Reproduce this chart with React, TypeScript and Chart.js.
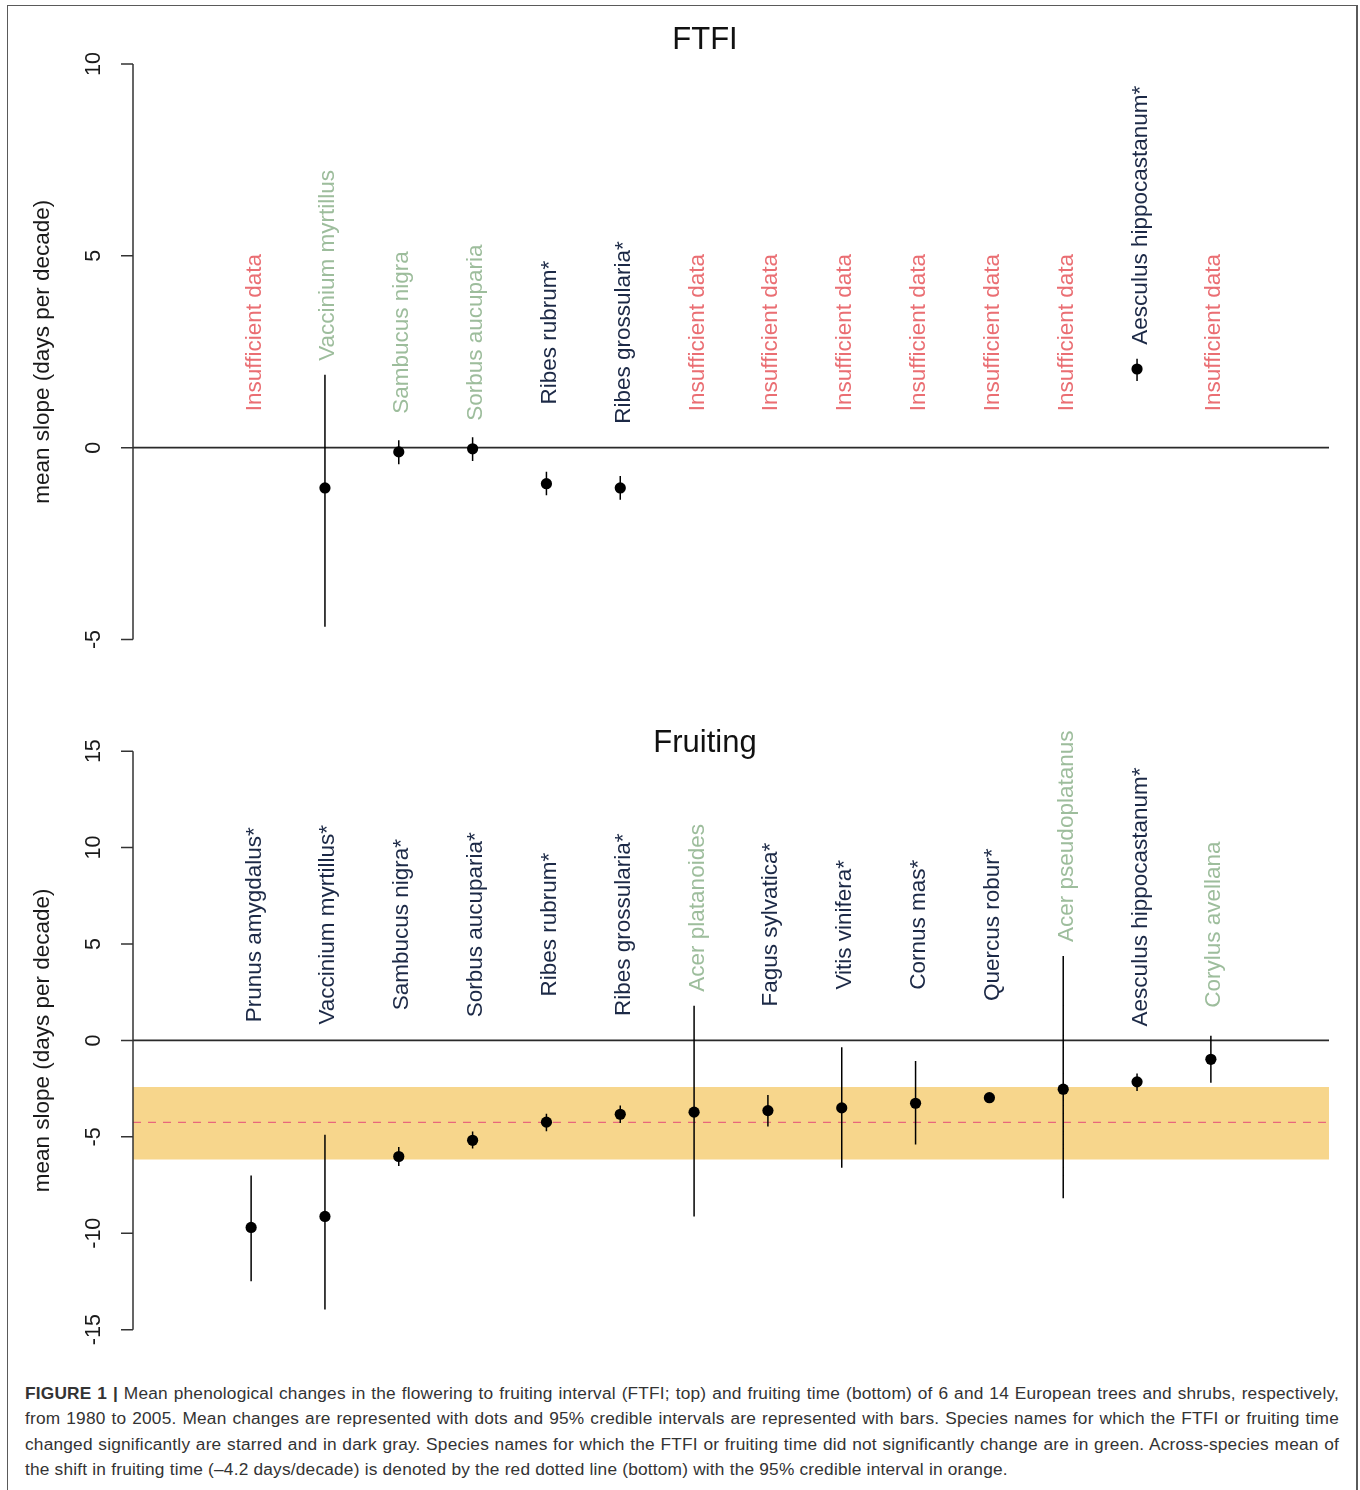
import React, { useEffect, useRef } from "react";
import { Chart, registerables } from "chart.js";

Chart.register(...registerables);

const FONT = '"Liberation Sans", Arial, Helvetica, sans-serif';

// ---------- FTFI (top) ----------
const topNames = [
  "Insufficient data",
  "Vaccinium myrtillus",
  "Sambucus nigra",
  "Sorbus aucuparia",
  "Ribes rubrum*",
  "Ribes grossularia*",
  "Insufficient data",
  "Insufficient data",
  "Insufficient data",
  "Insufficient data",
  "Insufficient data",
  "Insufficient data",
  "Aesculus hippocastanum*",
  "Insufficient data",
];
const topStatus = ["na", "ns", "ns", "ns", "sig", "sig", "na", "na", "na", "na", "na", "na", "sig", "na"];
const topMean = [null, -1.05, -0.11, -0.03, -0.94, -1.05, null, null, null, null, null, null, 2.05, null];
const topLower = [null, -4.67, -0.43, -0.35, -1.24, -1.36, null, null, null, null, null, null, 1.74, null];
const topUpper = [null, 1.9, 0.19, 0.27, -0.63, -0.74, null, null, null, null, null, null, 2.32, null];
const topTicks = [-5, 0, 5, 10];

// ---------- Fruiting (bottom) ----------
const botNames = [
  "Prunus amygdalus*",
  "Vaccinium myrtillus*",
  "Sambucus nigra*",
  "Sorbus aucuparia*",
  "Ribes rubrum*",
  "Ribes grossularia*",
  "Acer platanoides",
  "Fagus sylvatica*",
  "Vitis vinifera*",
  "Cornus mas*",
  "Quercus robur*",
  "Acer pseudoplatanus",
  "Aesculus hippocastanum*",
  "Corylus avellana",
];
const botStatus = ["sig", "sig", "sig", "sig", "sig", "sig", "ns", "sig", "sig", "sig", "sig", "ns", "sig", "ns"];
const botMean = [-9.7, -9.13, -6.02, -5.18, -4.24, -3.83, -3.72, -3.64, -3.5, -3.26, -2.97, -2.53, -2.15, -0.98];
const botLower = [-12.49, -13.95, -6.51, -5.61, -4.71, -4.28, -9.13, -4.47, -6.6, -5.4, -3.12, -8.19, -2.62, -2.19];
const botUpper = [-7.0, -4.89, -5.53, -4.73, -3.81, -3.38, 1.8, -2.83, -0.36, -1.07, -2.82, 4.38, -1.72, 0.24];
const botTicks = [-15, -10, -5, 0, 5, 10, 15];
const acrossMean = -4.25;
const acrossLower = -6.18;
const acrossUpper = -2.42;

const STATUS_COLORS: Record<string, string> = { na: "#ea6e73", ns: "#9dbd9c", sig: "#1c2946" };

const captionLines = [
  "Mean phenological changes in the flowering to fruiting interval (FTFI; top) and fruiting time (bottom) of 6 and 14 European trees and shrubs, respectively,",
  "from 1980 to 2005. Mean changes are represented with dots and 95% credible intervals are represented with bars. Species names for which the FTFI or fruiting time",
  "changed significantly are starred and in dark gray. Species names for which the FTFI or fruiting time did not significantly change are in green. Across-species mean of",
  "the shift in fruiting time (\u20134.2 days/decade) is denoted by the red dotted line (bottom) with the 95% credible interval in orange.",
];

type PanelProps = {
  title: string;
  names: string[];
  status: string[];
  mean: (number | null)[];
  lower: (number | null)[];
  upper: (number | null)[];
  ticks: number[];
  yMin: number;
  yMax: number;
  labelCenter: number;
  band?: { lower: number; upper: number; mean: number };
  height: number;
  padTop: number;
  padBottom: number;
  titleBaseline: number;
};

const X_MIN = -0.6;
const X_MAX = 15.6;

function Panel(p: PanelProps) {
  const ref = useRef<HTMLCanvasElement | null>(null);
  useEffect(() => {
    if (!ref.current) return;
    const pts = p.mean
      .map((m, i) => (m == null ? null : { x: i + 1, y: m }))
      .filter((v) => v != null) as { x: number; y: number }[];
    const bars: { x: number; y: number | null }[] = [];
    p.lower.forEach((lo, i) => {
      const hi = p.upper[i];
      if (lo == null || hi == null) return;
      bars.push({ x: i + 1, y: lo }, { x: i + 1, y: hi }, { x: i + 1, y: null });
    });
    const datasets: any[] = [
      {
        data: pts,
        showLine: false,
        pointRadius: 5.6,
        pointBackgroundColor: "#000",
        pointBorderColor: "#000",
        pointBorderWidth: 0,
      },
      {
        data: bars,
        showLine: true,
        spanGaps: false,
        borderColor: "#000",
        borderWidth: 1.5,
        pointRadius: 0,
      },
      {
        data: [
          { x: X_MIN, y: 0 },
          { x: X_MAX, y: 0 },
        ],
        showLine: true,
        borderColor: "#2a2a2a",
        borderWidth: 1.6,
        pointRadius: 0,
      },
    ];
    if (p.band) {
      datasets.push({
        data: [
          { x: X_MIN, y: p.band.mean },
          { x: X_MAX, y: p.band.mean },
        ],
        showLine: true,
        borderColor: "#e8677c",
        borderWidth: 1.4,
        borderDash: [8, 7],
        pointRadius: 0,
      });
      datasets.push({
        data: [
          { x: X_MIN, y: p.band.upper },
          { x: X_MAX, y: p.band.upper },
        ],
        showLine: true,
        borderWidth: 0,
        borderColor: "rgba(0,0,0,0)",
        backgroundColor: "#f7d68c",
        fill: { value: p.band.lower },
        pointRadius: 0,
      });
    }

    const decor = {
      id: "rdecor",
      afterDraw(chart: any) {
        const ctx = chart.ctx as CanvasRenderingContext2D;
        const y = chart.scales.y;
        const x = chart.scales.x;
        const ax = chart.chartArea.left;
        ctx.save();
        // R-style y axis
        ctx.strokeStyle = "#333";
        ctx.lineWidth = 1.5;
        ctx.beginPath();
        ctx.moveTo(ax, y.getPixelForValue(p.ticks[0]));
        ctx.lineTo(ax, y.getPixelForValue(p.ticks[p.ticks.length - 1]));
        p.ticks.forEach((t) => {
          const py = y.getPixelForValue(t);
          ctx.moveTo(ax - 12, py);
          ctx.lineTo(ax, py);
        });
        ctx.stroke();
        ctx.fillStyle = "#1a1a1a";
        ctx.font = `21.5px ${FONT}`;
        ctx.textAlign = "center";
        ctx.textBaseline = "alphabetic";
        p.ticks.forEach((t) => {
          const py = y.getPixelForValue(t);
          ctx.save();
          ctx.translate(ax - 33, py);
          ctx.rotate(-Math.PI / 2);
          ctx.fillText(String(t), 0, 0);
          ctx.restore();
        });
        // y axis title
        ctx.font = `22.5px ${FONT}`;
        ctx.save();
        ctx.translate(49, (chart.chartArea.top + chart.chartArea.bottom) / 2);
        ctx.rotate(-Math.PI / 2);
        ctx.fillText("mean slope (days per decade)", 0, 0);
        ctx.restore();
        // title
        ctx.font = `31px ${FONT}`;
        ctx.fillStyle = "#111";
        ctx.fillText(p.title, 705, p.titleBaseline);
        // species labels
        ctx.font = `22.5px ${FONT}`;
        ctx.textAlign = "left";
        const gap = 14;
        const cY = y.getPixelForValue(p.labelCenter);
        p.names.forEach((name, i) => {
          const w = ctx.measureText(name).width;
          let bottom = cY + w / 2;
          const hi = p.upper[i];
          if (hi != null) {
            const limit = y.getPixelForValue(Math.max(hi, 0)) - gap;
            if (bottom > limit) bottom = limit;
          }
          const px = x.getPixelForValue(i + 1);
          ctx.save();
          ctx.translate(px + 9.5, bottom);
          ctx.rotate(-Math.PI / 2);
          ctx.fillStyle = STATUS_COLORS[p.status[i]];
          ctx.fillText(name, 0, 0);
          ctx.restore();
        });
        ctx.restore();
      },
    };

    const chart = new Chart(ref.current, {
      type: "line",
      data: { datasets },
      options: {
        animation: false,
        responsive: false,
        events: [],
        layout: { padding: { left: 133, right: 31, top: p.padTop, bottom: p.padBottom } },
        plugins: { legend: { display: false }, tooltip: { enabled: false }, title: { display: false } },
        scales: {
          x: { type: "linear", min: X_MIN, max: X_MAX, display: false },
          y: { type: "linear", min: p.yMin, max: p.yMax, display: false },
        },
      },
      plugins: [decor],
    });
    return () => chart.destroy();
  }, []);
  return <canvas ref={ref} width={1360} height={p.height} style={{ display: "block", width: 1360, height: p.height }} />;
}

export default function App() {
  return (
    <div style={{ position: "absolute", left: 0, top: 0, width: 1360, height: 1490, overflow: "hidden", background: "#fff" }}>
      <div
        style={{
          position: "absolute",
          left: 7,
          top: 5,
          width: 1351,
          height: 1490,
          boxSizing: "border-box",
          borderLeft: "1.5px solid #5a5a5a",
          borderTop: "1.5px solid #5a5a5a",
          borderRight: "2px solid #5a5a5a",
        }}
      />
      <div style={{ position: "absolute", left: 0, top: 0 }}>
        <Panel
          title="FTFI"
          names={topNames}
          status={topStatus}
          mean={topMean}
          lower={topLower}
          upper={topUpper}
          ticks={topTicks}
          yMin={-5.6}
          yMax={10.6}
          labelCenter={3}
          height={700}
          padTop={41}
          padBottom={37.5}
          titleBaseline={48.5}
        />
      </div>
      <div style={{ position: "absolute", left: 0, top: 700 }}>
        <Panel
          title="Fruiting"
          names={botNames}
          status={botStatus}
          mean={botMean}
          lower={botLower}
          upper={botUpper}
          ticks={botTicks}
          yMin={-16.2}
          yMax={16.2}
          labelCenter={6}
          band={{ lower: acrossLower, upper: acrossUpper, mean: acrossMean }}
          height={680}
          padTop={28}
          padBottom={27.2}
          titleBaseline={52}
        />
      </div>
      <div
        style={{
          position: "absolute",
          left: 25,
          top: 1381,
          width: 1314,
          font: `17.3px ${FONT}`,
          letterSpacing: "0.2px",
          lineHeight: "25.4px",
          color: "#333",
        }}
      >
        {captionLines.map((line, i) => (
          <div key={i} style={{ textAlign: i < 3 ? "justify" : "left", textAlignLast: i < 3 ? "justify" : "auto" } as any}>
            {i === 0 ? <b>FIGURE 1 | </b> : null}
            {line}
          </div>
        ))}
      </div>
    </div>
  );
}
